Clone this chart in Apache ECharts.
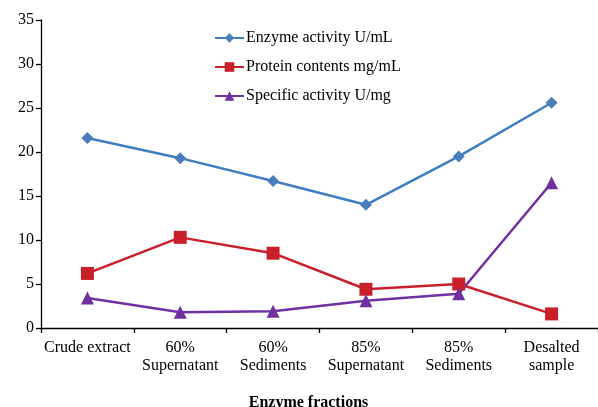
<!DOCTYPE html>
<html>
<head>
<meta charset="utf-8">
<script src="https://cdn.jsdelivr.net/npm/echarts@6/dist/echarts.min.js"></script>
<style>html,body{margin:0;padding:0;background:#fff;overflow:hidden}#c{width:598px;height:407px}</style>
</head>
<body>
<div id="c"></div>
<script>
var categories = ['Crude extract', '60%\nSupernatant', '60%\nSediments', '85%\nSupernatant', '85%\nSediments', 'Desalted\nsample'];
var enzymeActivity = [21.6, 19.3, 16.7, 14.0, 19.5, 25.6];
var proteinContents = [6.2, 10.3, 8.5, 4.4, 5.0, 1.6];
var specificActivity = [3.4, 1.8, 1.9, 3.1, 3.9, 16.5];
var seriesNames = ['Enzyme activity U/mL', 'Protein contents mg/mL', 'Specific activity U/mg'];
var yTicks = {min: 0, max: 35, interval: 5};
var xAxisTitle = 'Enzyme fractions';

var font = 'Liberation Serif, Times New Roman, serif';
var chart = echarts.init(document.getElementById('c'));
chart.setOption({
  animation: false,
  backgroundColor: '#fff',
  textStyle: {fontFamily: font},
  grid: {left: 41, right: 0, top: 20, bottom: 79, containLabel: false, outerBoundsMode: 'none'},
  legend: {
    orient: 'vertical', left: 209, top: 25, itemWidth: 29, itemHeight: 12, itemGap: 13,
    textStyle: {fontFamily: font, fontSize: 16, color: '#000', padding: [0,0,0,-3]},
    data: seriesNames
  },
  xAxis: {
    type: 'category', data: categories, boundaryGap: true,
    axisLine: {lineStyle: {color: '#000', width: 1.3}},
    axisTick: {show: true, length: 5, alignWithLabel: false, lineStyle: {color: '#000', width: 1.3}},
    axisLabel: {color: '#000', fontFamily: font, fontSize: 16, margin: 11, lineHeight: 18, interval: 0},
    name: xAxisTitle, nameLocation: 'middle', nameGap: 67,
    nameTextStyle: {fontFamily: font, fontSize: 16, fontWeight: 'bold', color: '#000', padding: [0, 22, 0, 0]}
  },
  yAxis: {
    type: 'value', min: yTicks.min, max: yTicks.max, interval: yTicks.interval,
    axisLine: {show: true, lineStyle: {color: '#000', width: 1.3}},
    axisTick: {show: true, length: 5, lineStyle: {color: '#000', width: 1.3}},
    axisLabel: {color: '#000', fontFamily: font, fontSize: 16, margin: 7},
    splitLine: {show: false}
  },
  series: [
    {name: seriesNames[0], type: 'line', data: enzymeActivity, symbol: 'diamond', symbolSize: 12,
     lineStyle: {color: '#3F7EC2', width: 2.5}, itemStyle: {color: '#4A7EBB'}},
    {name: seriesNames[1], type: 'line', data: proteinContents, symbol: 'rect', symbolSize: 13,
     lineStyle: {color: '#C8202A', width: 2.5}, itemStyle: {color: '#C8202A'}},
    {name: seriesNames[2], type: 'line', data: specificActivity, symbol: 'triangle', symbolSize: 13,
     lineStyle: {color: '#7030A0', width: 2.5}, itemStyle: {color: '#7030A0'}}
  ]
});
</script>
</body>
</html>
